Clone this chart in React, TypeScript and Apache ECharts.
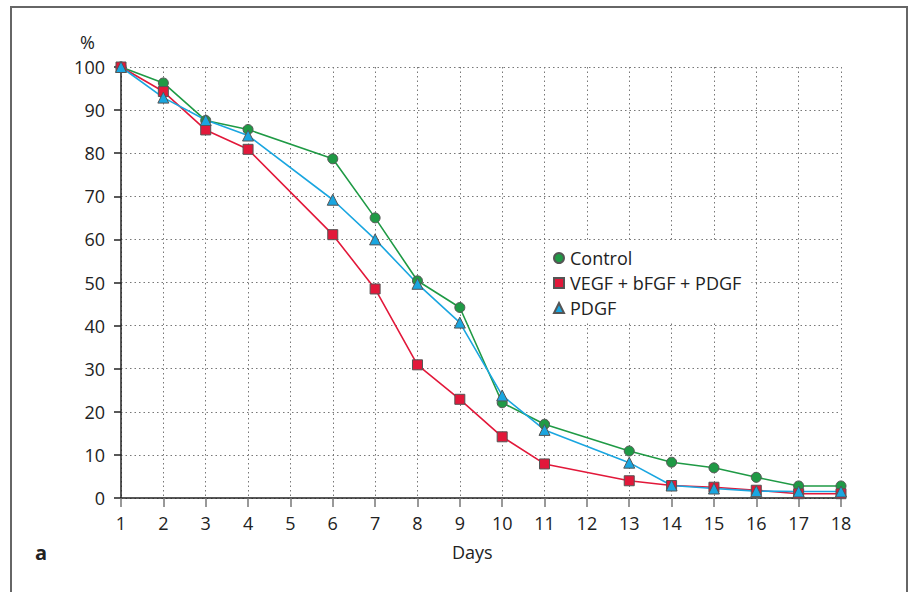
import React, { useEffect, useRef } from "react";
import * as echarts from "echarts";

const days = [1, 2, 3, 4, 6, 7, 8, 9, 10, 11, 13, 14, 15, 16, 17, 18];
const control = [100, 96.3, 87.6, 85.5, 78.7, 65.0, 50.4, 44.2, 22.1, 17.1, 10.9, 8.3, 7.0, 4.8, 2.8, 2.8];
const vegfCombo = [100, 94.3, 85.4, 80.9, 61.1, 48.5, 30.9, 22.9, 14.2, 7.9, 4.0, 2.9, 2.5, 1.8, 1.0, 1.0];
const pdgf = [100, 92.9, 87.7, 84.1, 69.2, 60.0, 49.7, 40.7, 23.8, 15.8, 8.2, 2.9, 2.2, 1.6, 1.5, 1.5];
const seriesNames = ["Control", "VEGF + bFGF + PDGF", "PDGF"];

const FONT = "'Open Sans', 'Noto Sans', sans-serif";

export default function App() {
  const ref = useRef<HTMLDivElement>(null);
  useEffect(() => {
    if (!ref.current) return;
    const chart = echarts.init(ref.current, null, { renderer: "svg" });
    const pair = (ys: number[]) => days.map((d, i) => [d, ys[i]]);
    const mk = (name: string, ys: number[], color: string, symbol: string, size: number) => ({
      name,
      type: "line",
      data: pair(ys),
      symbol,
      symbolSize: size,
      lineStyle: { color, width: 1.6 },
      itemStyle: { color, borderColor: "#555", borderWidth: 1 },
    });
    chart.setOption({
      animation: false,
      backgroundColor: "#fff",
      graphic: [
        {
          type: "rect",
          shape: { x: 11, y: 7, width: 896, height: 620 },
          style: { fill: "none", stroke: "#666", lineWidth: 2 },
          silent: true,
        },
        {
          type: "text",
          left: 80,
          top: 33,
          style: { text: "%", font: `18px ${FONT}`, fill: "#222" },
        },
        {
          type: "text",
          left: 452,
          top: 543,
          style: { text: "Days", font: `18px ${FONT}`, fill: "#222" },
        },
        {
          type: "text",
          left: 35,
          top: 542,
          style: { text: "a", font: `bold 20px ${FONT}`, fill: "#222" },
        },
      ],
      legend: {
        orient: "vertical",
        left: 546,
        top: 242,
        padding: [7, 10, 5, 7],
        backgroundColor: "#fff",
        itemGap: 7,
        itemWidth: 10,
        itemHeight: 10,
        lineStyle: { opacity: 0, width: 0 },
        textStyle: { fontFamily: FONT, fontSize: 18, color: "#222", padding: [0, 0, 0, 1] },
        data: [
          { name: seriesNames[0], icon: "circle" },
          { name: seriesNames[1], icon: "rect" },
          { name: seriesNames[2], icon: "triangle" },
        ],
      },
      grid: { left: 121, right: 68, top: 67, bottom: 94, containLabel: false },
      xAxis: {
        type: "value",
        min: 1,
        max: 18,
        interval: 1,
        axisLine: { show: true, lineStyle: { color: "#222", width: 1.5 } },
        axisTick: { show: true, length: 9, lineStyle: { color: "#777", width: 1.5 } },
        axisLabel: { margin: 16, fontFamily: FONT, fontSize: 18, color: "#222" },
        splitLine: { show: true, lineStyle: { type: [1.5, 3], color: "#777", width: 1 } },
      },
      yAxis: {
        type: "value",
        min: 0,
        max: 100,
        interval: 10,
        axisLine: { show: true, lineStyle: { color: "#222", width: 1.5 } },
        axisTick: { show: true, length: 7, lineStyle: { color: "#222", width: 1.5 } },
        axisLabel: { margin: 16, fontFamily: FONT, fontSize: 18, color: "#222" },
        splitLine: { show: true, lineStyle: { type: [1.5, 3], color: "#777", width: 1 } },
      },
      series: [
        mk(seriesNames[0], control, "#1f9a45", "circle", 10),
        mk(seriesNames[1], vegfCombo, "#e2183a", "rect", 10),
        mk(seriesNames[2], pdgf, "#1aa6e0", "triangle", 11),
      ],
    });
    return () => chart.dispose();
  }, []);
  return (
    <div
      ref={ref}
      style={{ position: "fixed", left: 0, top: 0, width: 909, height: 592, background: "#fff" }}
    />
  );
}
